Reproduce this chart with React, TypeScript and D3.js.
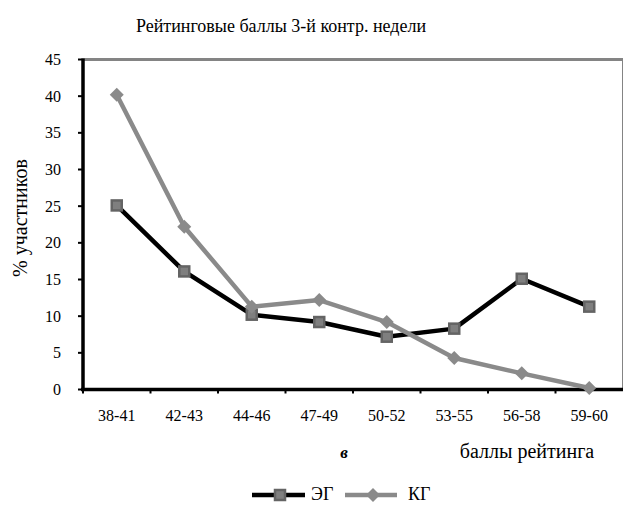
import React from "react";
import * as d3 from "d3";

// Chart data
const CATEGORIES = ["38-41", "42-43", "44-46", "47-49", "50-52", "53-55", "56-58", "59-60"];
const EG_VALUES = [25.1, 16.1, 10.2, 9.2, 7.2, 8.3, 15.1, 11.3];
const KG_VALUES = [40.2, 22.2, 11.3, 12.2, 9.2, 4.3, 2.2, 0.2];
const Y_TICKS = [0, 5, 10, 15, 20, 25, 30, 35, 40, 45];

const FONT = "Liberation Serif";
const WIDTH = 624;
const HEIGHT = 505;
const PLOT = { left: 83, right: 623, top: 59.5, bottom: 389.5 };

const EG_COLOR = "#000";
const KG_COLOR = "#8a8a8a";

const x = d3.scaleBand<string>().domain(CATEGORIES).range([PLOT.left, PLOT.right]);
const y = d3.scaleLinear().domain([0, 45]).range([PLOT.bottom, PLOT.top]);
const cx = (c: string) => (x(c) as number) + x.bandwidth() / 2;

const line = d3.line<number>()
  .x((_, i) => cx(CATEGORIES[i]))
  .y((d) => y(d));

function Square({ px, py }: { px: number; py: number }) {
  return (
    <rect x={px - 5} y={py - 5} width={10} height={10}
      fill="#7f7f7f" stroke="#646464" strokeWidth={2.5} />
  );
}

function Diamond({ px, py }: { px: number; py: number }) {
  return (
    <path d={`M${px},${py - 7}L${px + 7},${py}L${px},${py + 7}L${px - 7},${py}Z`} fill={KG_COLOR} />
  );
}

export default function App() {
  const txt = (size: number, extra: React.CSSProperties = {}) => ({ fontFamily: FONT, fontSize: size + "px", ...extra });
  const legendY = 495;

  return (
    <div style={{ position: "absolute", left: 0, top: 0 }}>
      <svg width={WIDTH} height={HEIGHT} style={{ display: "block", background: "#fff" }}>
        <text x={281} y={32} textAnchor="middle" style={txt(18)}>
          Рейтинговые баллы 3-й контр. недели
        </text>

        {/* frame: grey top and right */}
        <line x1={PLOT.left} x2={PLOT.right} y1={PLOT.top} y2={PLOT.top} stroke="#848484" strokeWidth={3} />
        <line x1={PLOT.right - 0.5} x2={PLOT.right - 0.5} y1={PLOT.top} y2={PLOT.bottom} stroke="#848484" strokeWidth={1} />

        {/* y axis */}
        <line x1={PLOT.left} x2={PLOT.left} y1={PLOT.top - 1} y2={PLOT.bottom + 1.5} stroke="#000" strokeWidth={3.5} />
        {Y_TICKS.map((t) => (
          <g key={t}>
            <line x1={PLOT.left - 5} x2={PLOT.left} y1={y(t)} y2={y(t)} stroke="#000" strokeWidth={2} />
            <text x={61} y={y(t)} dy="0.35em" textAnchor="end" style={txt(16)}>{t}</text>
          </g>
        ))}

        {/* x axis */}
        <line x1={PLOT.left - 2} x2={PLOT.right} y1={PLOT.bottom} y2={PLOT.bottom} stroke="#000" strokeWidth={3.5} />
        {CATEGORIES.map((c) => (
          <g key={c}>
            <line x1={x(c) as number} x2={x(c) as number} y1={PLOT.bottom} y2={PLOT.bottom + 4} stroke="#000" strokeWidth={2} />
            <text x={cx(c)} y={421} textAnchor="middle" style={txt(16)}>{c}</text>
          </g>
        ))}

        {/* axis titles */}
        <text transform="translate(27,218) rotate(-90)" textAnchor="middle" fill="#000" style={txt(20)}>% участников</text>
        <text x={344} y={458} textAnchor="middle" style={txt(17, { fontStyle: "italic", fontWeight: "bold" })}>в</text>
        <text x={527} y={458} textAnchor="middle" style={txt(20)}>баллы рейтинга</text>

        {/* series */}
        <path d={line(EG_VALUES) as string} fill="none" stroke={EG_COLOR} strokeWidth={4.5} strokeLinejoin="round" />
        <path d={line(KG_VALUES) as string} fill="none" stroke={KG_COLOR} strokeWidth={4.5} strokeLinejoin="round" />
        {EG_VALUES.map((v, i) => <Square key={"e" + i} px={cx(CATEGORIES[i])} py={y(v)} />)}
        {KG_VALUES.map((v, i) => <Diamond key={"k" + i} px={cx(CATEGORIES[i])} py={y(v)} />)}

        {/* legend */}
        <line x1={252} x2={305} y1={legendY} y2={legendY} stroke={EG_COLOR} strokeWidth={4.5} />
        <Square px={280} py={legendY} />
        <text x={311} y={legendY + 5} style={txt(18)}>ЭГ</text>
        <line x1={345} x2={397} y1={legendY} y2={legendY} stroke={KG_COLOR} strokeWidth={4.5} />
        <Diamond px={373} py={legendY} />
        <text x={408} y={legendY + 5} style={txt(18)}>КГ</text>
      </svg>
    </div>
  );
}
